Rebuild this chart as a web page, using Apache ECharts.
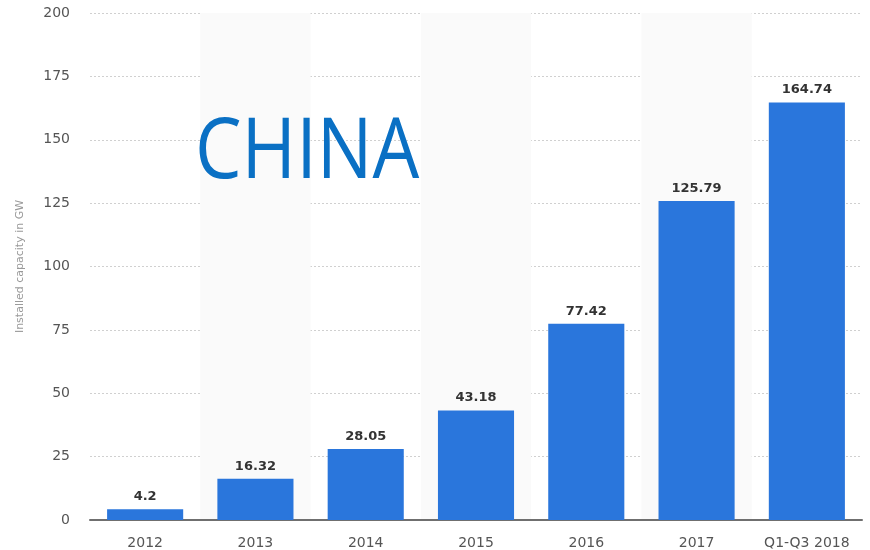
<!DOCTYPE html>
<html>
<head>
<meta charset="utf-8">
<script src="https://cdn.jsdelivr.net/npm/echarts@6/dist/echarts.min.js"></script>
<style>
  html, body { margin: 0; padding: 0; background: #fff; }
  #chart { width: 870px; height: 550px; }
</style>
</head>
<body>
<div id="chart"></div>
<script>
// data
const years = ['2012', '2013', '2014', '2015', '2016', '2017', 'Q1-Q3 2018']
const capacity = [4.2, 16.32, 28.05, 43.18, 77.42, 125.79, 164.74]
const yTicks = [0, 25, 50, 75, 100, 125, 150, 175, 200]

const chart = echarts.init(document.getElementById('chart'))

const option = {
  animation: false,
  grid: {
    left: 90,
    right: 8,
    top: 13,
    bottom: 30,
  },
  graphic: [
    {
      type: 'text',
      left: 195,
      top: 112,
      z: 100,
      scaleY: 1.13,
      style: {
        text: 'CHINA',
        fontFamily: 'Open Sans',
        fontSize: 74,
        fill: '#0a70c4',
      },
    },
  ],
  xAxis: {
    type: 'category',
    data: years,
    axisTick: { show: false },
    axisLine: {
      lineStyle: { color: '#6f6f6f', width: 2 },
    },
    axisLabel: {
      interval: 0,
      color: '#555',
      fontSize: 14,
      fontFamily: 'DejaVu Sans',
      margin: 16,
    },
    splitArea: {
      show: true,
      interval: 0,
      areaStyle: { color: ['rgba(0,0,0,0)', '#fafafa'] },
    },
  },
  yAxis: {
    type: 'value',
    min: yTicks[0],
    max: yTicks[yTicks.length - 1],
    interval: 25,
    name: 'Installed capacity in GW',
    nameLocation: 'middle',
    nameGap: 64,
    nameTextStyle: {
      color: '#999',
      fontSize: 11,
      fontFamily: 'DejaVu Sans',
    },
    axisLine: { show: false },
    axisTick: { show: false },
    axisLabel: {
      color: '#555',
      fontSize: 14,
      fontFamily: 'DejaVu Sans',
      margin: 20,
    },
    splitLine: {
      lineStyle: { color: '#d0d0d0', type: [2, 2] },
    },
  },
  series: [
    {
      type: 'bar',
      data: capacity,
      barWidth: '69%',
      itemStyle: { color: '#2a76dc' },
      label: {
        show: true,
        position: 'top',
        distance: 6,
        color: '#333',
        fontWeight: 'bold',
        fontSize: 13,
        fontFamily: 'DejaVu Sans',
      },
    },
  ],
}

chart.setOption(option)
</script>
</body>
</html>
